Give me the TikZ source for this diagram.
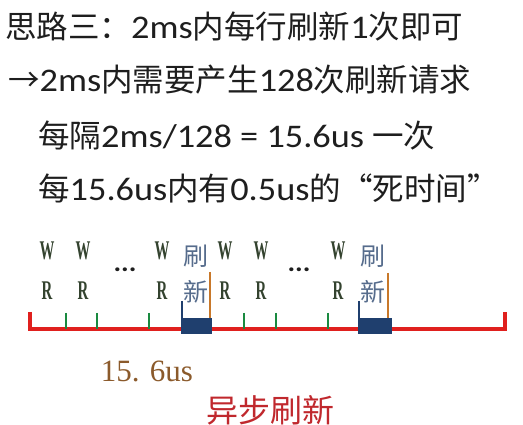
\documentclass[tikz,border=0pt]{standalone}
\usepackage{fontspec}
\setmainfont{Carlito}[FakeStretch=1.1]
\newfontfamily\cjk{Noto Sans CJK SC}
\newfontfamily\romanfont{Liberation Serif}
\newfontfamily\wrfont[FakeStretch=0.55]{Liberation Serif}
\newcommand{\zh}[1]{{\cjk\fontsize{31.5}{34}\selectfont #1}}
\usetikzlibrary{positioning}

\definecolor{textgray}{HTML}{1E1E1E}
\definecolor{lineRed}{HTML}{E0201E}
\definecolor{tickGreen}{HTML}{1A8A40}
\definecolor{blockBlue}{HTML}{1F3F6E}
\definecolor{labelBlue}{HTML}{566C8C}
\definecolor{wrGreen}{HTML}{34432F}
\definecolor{barOrange}{HTML}{C8782A}
\definecolor{timeBrown}{HTML}{8B5A2B}
\definecolor{titleRed}{HTML}{C0282D}

\tikzset{
    row/.style={anchor=west, inner sep=0pt, text=textgray, font=\fontsize{33}{36}\selectfont},
    wr/.style={inner sep=0pt, text=wrGreen, font=\wrfont\bfseries\fontsize{27}{29}\selectfont},
    shua/.style={inner sep=0pt, text=labelBlue, font=\cjk\fontsize{25}{27}\selectfont},
    dots/.style={inner sep=0pt, text=textgray, font=\bfseries\fontsize{26}{28}\selectfont}
}

\begin{document}
\begin{tikzpicture}[x=1pt, y=-1pt]
        \useasboundingbox (0, 0) rectangle (523, 425);
        \node[row] (l1) at (5, 27) {\zh{思路三：}2ms\zh{内每行刷新}1\zh{次即可}};  % Text Line
        \node[row] (l2) at (8, 80) {\zh{→}2ms\zh{内需要产生}128\zh{次刷新请求}};  % Text Line
        \node[row] (l3) at (38, 135) {\zh{每隔}2ms/128 = 15.6us \zh{一次}};  % Text Line
        \node[row] (l4) at (38, 188) {\zh{每}15.6us\zh{内有}0.5us\zh{的“死时间”}};  % Text Line

        \draw[lineRed, line width=3.2pt] (30, 312) -- (30, 329) -- (505, 329) -- (505, 312);  % Time Axis
        \draw[tickGreen, line width=2.8pt] (66, 313) -- (66, 329);  % Tick
        \draw[tickGreen, line width=2.8pt] (97, 313) -- (97, 329);  % Tick
        \draw[tickGreen, line width=2.8pt] (149, 313) -- (149, 329);  % Tick
        \draw[tickGreen, line width=2.8pt] (244, 313) -- (244, 329);  % Tick
        \draw[tickGreen, line width=2.8pt] (276, 313) -- (276, 329);  % Tick
        \draw[tickGreen, line width=2.8pt] (328, 313) -- (328, 329);  % Tick

        \fill[blockBlue] (181, 318) rectangle (212, 334);  % Refresh Block
        \draw[blockBlue, line width=2.5pt] (182, 301) -- (182, 318);  % Block Edge
        \draw[barOrange, line width=2.5pt] (210, 272) -- (210, 318);  % Refresh Mark
        \fill[blockBlue] (358, 318) rectangle (392, 334);  % Refresh Block
        \draw[blockBlue, line width=2.5pt] (359, 301) -- (359, 318);  % Block Edge
        \draw[barOrange, line width=2.5pt] (388, 273) -- (388, 318);  % Refresh Mark

        \node[wr] (w1) at (47, 251) {W};
        \node[wr] (r1) at (47, 291) {R};
        \node[wr] (w2) at (83, 251) {W};
        \node[wr] (r2) at (83, 291) {R};
        \node[wr] (w3) at (162, 251) {W};
        \node[wr] (r3) at (162, 291) {R};
        \node[wr] (w4) at (225, 251) {W};
        \node[wr] (r4) at (225, 291) {R};
        \node[wr] (w5) at (261, 251) {W};
        \node[wr] (r5) at (261, 291) {R};
        \node[wr] (w6) at (338, 251) {W};
        \node[wr] (r6) at (338, 291) {R};
        \node[dots] (d1) at (125, 270) {...};
        \node[dots] (d2) at (299, 270) {...};

        \node[shua] (s1) at (196, 256) {刷};
        \node[shua] (x1) at (196, 292) {新};
        \node[shua] (s2) at (373, 256) {刷};
        \node[shua] (x2) at (373, 292) {新};

        \node[inner sep=0pt, text=timeBrown, font=\romanfont\fontsize{31}{34}\selectfont] (period) at (147, 371) {15. 6us};  % Interval
        \node[inner sep=0pt, text=titleRed, font=\cjk\fontsize{32}{34}\selectfont] (caption) at (270, 410) {异步刷新};  % Caption
    \end{tikzpicture}
\end{document}
